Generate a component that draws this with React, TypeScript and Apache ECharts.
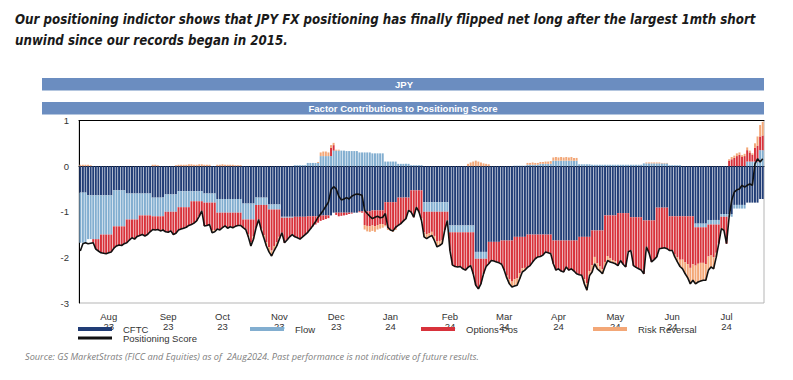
import React, { useEffect, useRef } from "react";
import * as echarts from "echarts";

// ---------- data ----------
const START_DATE = "2023-07-31";
const END_DATE = "2024-08-02";

// dates (mid-month) that carry the month labels on the x axis
const MONTH_LABEL_DATES = [
  "2023-08-15", "2023-09-15", "2023-10-16", "2023-11-15", "2023-12-15", "2024-01-15",
  "2024-02-15", "2024-03-15", "2024-04-15", "2024-05-15", "2024-06-14", "2024-07-15",
];
const MONTH_NAMES = ["Jan", "Feb", "Mar", "Apr", "May", "Jun", "Jul", "Aug", "Sep", "Oct", "Nov", "Dec"];

// weekly factors (CFTC report / flow), each value holds for one reporting week
const CFTC_WEEKLY = [
  -0.58, -0.64, -0.64, -0.53, -0.60, -0.60, -0.69, -0.62, -0.55, -0.55,
  -0.60, -0.72, -0.72, -0.82, -0.69, -0.84, -1.11, -1.11, -1.10, -1.08,
  -1.02, -1.02, -0.99, -0.97, -0.79, -0.69, -0.53, -0.79, -0.79, -1.30,
  -1.30, -1.88, -1.66, -1.63, -1.55, -1.50, -1.50, -1.63, -1.63, -1.55,
  -1.41, -1.08, -1.03, -1.12, -1.19, -0.91, -1.10, -1.10, -1.26, -1.18,
  -1.05, -0.85, -0.80, -0.72,
];
const FLOW_WEEKLY = [
  -1.10, -0.96, -0.86, -0.79, -0.57, -0.48, -0.41, -0.38, -0.35, -0.22,
  -0.20, -0.30, -0.30, -0.35, -0.16, -0.11, -0.02, 0.02, 0.07, 0.22,
  0.34, 0.33, 0.30, 0.28, 0.10, 0.05, 0.02, -0.21, -0.21, -0.15,
  -0.15, -0.15, 0.0, 0.0, 0.01, 0.03, 0.05, 0.12, 0.12, 0.04,
  0.03, 0.03, 0.03, 0.03, 0.06, 0.06, 0.02, 0.0, -0.08, -0.10,
  -0.06, -0.08, 0.10, 0.35,
];

// daily factors
const OPTIONS_POS = [
  0, 0, 0,
  0, 0, -0.08, -0.22, -0.26,
  -0.40, -0.41, -0.42, -0.40, -0.38,
  -0.48, -0.43, -0.41, -0.42, -0.38,
  -0.51, -0.45, -0.40, -0.43, -0.37,
  -0.44, -0.42, -0.45, -0.42, -0.36,
  -0.29, -0.30, -0.29, -0.32, -0.30,
  -0.44, -0.45, -0.42, -0.50, -0.47,
  -0.50, -0.48, -0.46, -0.44, -0.40,
  -0.51, -0.48, -0.43, -0.33, -0.21,
  -0.51, -0.50, -0.48, -0.60, -0.60,
  -0.36, -0.38, -0.33, -0.29, -0.34,
  -0.31, -0.33, -0.30, -0.28, -0.28,
  -0.18, -0.22, -0.33, -0.50, -0.37,
  -0.50, -0.32, -0.52, -0.66, -0.82,
  -0.83, -0.90, -0.80, -0.72, -0.60,
  -0.33, -0.55, -0.49, -0.42, -0.37,
  -0.44, -0.46, -0.49, -0.44, -0.39,
  -0.35, -0.28, -0.22, -0.18, -0.14,
  -0.12, -0.10, -0.08, -0.06, 0.18,
  0.12, -0.05, -0.08, -0.07, -0.06,
  -0.05, -0.03, -0.02, 0, 0,
  -0.02, -0.03, -0.30, -0.32, -0.33,
  -0.33, -0.35, -0.32, -0.30, -0.30,
  -0.50, -0.58, -0.60, -0.62, -0.58,
  -0.61, -0.58, -0.52, -0.46, -0.30,
  -0.48, -0.59, -0.37, -0.47, -0.62,
  -0.45, -0.49, -0.47, -0.44, -0.53,
  -0.65, -0.64, -0.62, -0.40, -0.19,
  -0.40, -0.72, -0.75, -0.76, -0.75,
  -0.80, -0.83, -0.77, -0.73, -0.91,
  -0.58, -0.66, -0.55, -0.33, -0.17,
  -0.48, -0.41, -0.42, -0.44, -0.46,
  -0.52, -0.65, -0.77, -0.85, -0.90,
  -0.93, -0.91, -0.80, -0.69, -0.68,
  -0.72, -0.68, -0.60, -0.53, -0.49,
  -0.48, -0.45, -0.38, -0.40, -0.42,
  -0.51, -0.65, -0.62, -0.67, -0.69,
  -0.58, -0.65, -0.62, -0.67, -0.73,
  -0.83, -0.84, -0.93, -1.02, -0.75,
  -0.76, -0.58, -0.72, -0.79, -0.85,
  -1.02, -0.89, -0.94, -0.98, -1.01,
  -1.15, -1.04, -1.12, -1.18, -0.85,
  -0.73, -1.06, -1.10, -1.13, -1.16,
  -1.17, -0.58, -0.71, -0.91, -0.86,
  -1.08, -0.90, -0.89, -0.88, -0.90,
  -0.75, -0.75, -0.84, -0.90, -0.95,
  -0.95, -1.01, -1.05, -1.13, -1.05,
  -0.84, -0.80, -0.78, -0.78, -0.81,
  -0.70, -0.68, -0.72, -0.62, -0.42,
  -0.26, -0.30, -0.59, 0.12, 0.15,
  0.18, 0.22, 0.25, 0.20, 0.22,
  0.25, 0.20, 0.15, 0.30, 0.35,
  0.30, 0.32,
];
const RISK_REVERSAL = [
  0.03, 0.03, 0.03,
  0.03, 0.02, 0, 0, 0,
  0, 0, 0, 0, 0,
  0, 0, 0, 0, 0,
  0, 0, 0, 0, 0,
  0, 0, 0, 0, 0,
  0.03, 0.03, 0.02, 0, 0,
  0, 0, 0, 0, 0.02,
  0.03, 0.03, 0.03, 0.03, 0.04,
  0.04, 0.03, 0.03, 0.04, 0.04,
  0.03, 0.03, 0.03, -0.04, -0.03,
  0.03, 0.03, 0.04, 0.03, 0.03,
  0.03, 0.03, 0.02, 0.02, 0.02,
  0, 0, -0.05, -0.08, -0.06,
  0, 0, -0.03, -0.06, -0.08,
  -0.10, -0.12, -0.10, -0.08, -0.05,
  0, 0, 0, 0, 0,
  0, 0, 0, 0, 0,
  0, 0, 0, 0, 0.02,
  0.08, 0.10, 0.10, 0.08, 0.06,
  0.05, 0.02, 0.02, 0, 0,
  0, 0, 0, 0, 0,
  0, 0, -0.10, -0.12, -0.12,
  -0.12, -0.12, -0.10, -0.10, -0.08,
  -0.03, -0.03, -0.03, -0.03, -0.03,
  0, 0, 0, 0, 0,
  0, 0, 0, -0.02, -0.03,
  -0.10, -0.10, -0.08, -0.08, -0.10,
  -0.12, -0.10, -0.08, 0, 0,
  0, 0, 0, 0, 0,
  0, 0, 0.05, 0.08, 0.10,
  0.12, 0.10, 0.08, 0.06, 0.05,
  0.04, 0, 0, 0, 0,
  0, 0, -0.05, -0.10, -0.12,
  -0.15, -0.15, -0.12, -0.08, -0.05,
  0.04, 0.04, 0.05, 0.04, 0.04,
  0.04, 0.04, 0.05, 0.05, 0.06,
  0.07, 0.08, 0.07, 0.08, 0.07,
  0.08, 0.07, 0.08, 0.06, 0.06,
  0, 0, -0.10, -0.15, -0.10,
  -0.15, -0.15, -0.12, -0.10, -0.10,
  -0.10, -0.10, -0.08, -0.06, -0.05,
  0, 0, 0, 0, 0,
  0, 0, 0, 0, 0,
  0, 0.02, 0.02, 0.02, 0.02,
  0.02, 0.02, 0.01, 0.01, 0.01,
  0, 0, -0.05, -0.10, -0.15,
  -0.20, -0.25, -0.30, -0.35, -0.35,
  -0.40, -0.40, -0.40, -0.38, -0.35,
  -0.30, -0.25, -0.25, -0.10, 0,
  0, 0, 0, 0.03, 0.05,
  0.05, 0.06, 0.05, 0.04, 0.05,
  0.06, 0.04, 0.03, 0.10, 0.20,
  0.25, 0.30,
];
const POSITIONING_SCORE = [
  -1.86, -1.70, -1.68, -1.70, -1.69, -1.68, -1.82, -1.86, -1.90, -1.91,
  -1.92, -1.90, -1.88, -1.80, -1.75, -1.73, -1.74, -1.70, -1.68, -1.62,
  -1.57, -1.60, -1.54, -1.52, -1.50, -1.53, -1.50, -1.44, -1.39, -1.40,
  -1.39, -1.42, -1.40, -1.44, -1.45, -1.42, -1.50, -1.47, -1.40, -1.38,
  -1.36, -1.34, -1.30, -1.28, -1.25, -1.20, -1.10, -0.98, -1.31, -1.30,
  -1.28, -1.46, -1.44, -1.38, -1.40, -1.35, -1.31, -1.36, -1.33, -1.35,
  -1.32, -1.30, -1.30, -1.35, -1.39, -1.55, -1.75, -1.60, -1.35, -1.17,
  -1.40, -1.57, -1.75, -1.88, -1.97, -1.85, -1.75, -1.60, -1.46, -1.68,
  -1.62, -1.55, -1.50, -1.55, -1.57, -1.60, -1.55, -1.50, -1.45, -1.38,
  -1.30, -1.22, -1.12, -1.05, -0.97, -0.88, -0.79, -0.52, -0.45, -0.50,
  -0.66, -0.74, -0.72, -0.69, -0.72, -0.66, -0.63, -0.61, -0.62, -0.64,
  -0.97, -1.04, -1.10, -1.15, -1.12, -1.10, -1.13, -1.12, -1.04, -1.34,
  -1.40, -1.42, -1.34, -1.30, -1.26, -1.20, -1.15, -0.97, -1.01, -1.12,
  -0.90, -1.00, -1.19, -1.55, -1.59, -1.55, -1.52, -1.63, -1.77, -1.74,
  -1.70, -1.40, -1.19, -1.85, -2.17, -2.20, -2.21, -2.20, -2.25, -2.28,
  -2.22, -2.18, -2.36, -2.61, -2.69, -2.58, -2.36, -2.20, -2.14, -2.07,
  -2.08, -2.10, -2.12, -2.15, -2.28, -2.45, -2.58, -2.65, -2.63, -2.61,
  -2.47, -2.32, -2.28, -2.22, -2.18, -2.10, -2.03, -1.99, -1.98, -1.95,
  -1.88, -1.90, -1.92, -2.14, -2.28, -2.25, -2.30, -2.32, -2.21, -2.28,
  -2.25, -2.30, -2.36, -2.38, -2.39, -2.58, -2.72, -2.40, -2.32, -2.14,
  -2.25, -2.30, -2.36, -2.20, -2.07, -2.10, -2.12, -2.14, -2.18, -2.07,
  -2.15, -2.21, -1.88, -1.85, -2.18, -2.22, -2.25, -2.28, -2.36, -1.77,
  -1.90, -2.10, -2.05, -1.99, -1.81, -1.80, -1.79, -1.81, -1.85, -1.85,
  -1.99, -2.10, -2.20, -2.25, -2.36, -2.45, -2.58, -2.50, -2.58, -2.54,
  -2.52, -2.50, -2.50, -2.28, -2.21, -2.25, -2.00, -1.70, -1.37, -1.41,
  -1.70, -1.12, -0.75, -0.57, -0.52, -0.50, -0.42, -0.46, -0.42, -0.39,
  -0.42, 0.05, 0.16, 0.09, 0.16,
];

const TITLE_LINES = [
  "Our positioning indictor shows that JPY FX positioning has finally flipped net long after the largest 1mth short",
  "unwind since our records began in 2015.",
];
const SOURCE_TEXT =
  "Source: GS MarketStrats (FICC and Equities) as of  2Aug2024. Past performance is not indicative of future results.";

// ---------- helpers ----------
function buildBusinessDays(start: string, end: string): string[] {
  const out: string[] = [];
  const d = new Date(start + "T00:00:00Z");
  const e = new Date(end + "T00:00:00Z");
  while (d.getTime() <= e.getTime()) {
    const wd = d.getUTCDay();
    if (wd !== 0 && wd !== 6) out.push(d.toISOString().slice(0, 10));
    d.setUTCDate(d.getUTCDate() + 1);
  }
  return out;
}

const COLORS = {
  cftc: "#213D76",
  flow: "#82AED0",
  options: "#D8323B",
  rr: "#F3A777",
  score: "#111111",
  header: "#6B8DC0",
};

export default function App() {
  const ref = useRef<HTMLDivElement>(null);

  useEffect(() => {
    if (!ref.current) return;
    const chart = echarts.init(ref.current, undefined, { renderer: "svg" });

    const dates = buildBusinessDays(START_DATE, END_DATE);
    // each weekly report value holds from its release day through the following week
    const weekOf = (i: number) => Math.floor((i + 2) / 5);
    const cftcDaily = dates.map((_, i) => CFTC_WEEKLY[weekOf(i)]);
    const flowDaily = dates.map((_, i) => FLOW_WEEKLY[weekOf(i)]);

    const labelFont = "'Liberation Sans', Arial, sans-serif";
    const barCommon = { type: "bar", stack: "total", barCategoryGap: "24%", emphasis: { disabled: true } };

    const legendBase = (name: string, left: number, top: number, h: number) => ({
      data: [name],
      left,
      top,
      icon: "rect",
      itemWidth: 34,
      itemHeight: h,
      padding: 0,
      selectedMode: false,
      textStyle: { fontSize: 9.5, color: "#333", fontFamily: labelFont, padding: [0, 0, 0, 6], lineHeight: 12 },
    });

    chart.setOption({
      animation: false,
      backgroundColor: "#ffffff",
      title: [
        {
          text: TITLE_LINES.join("\n"),
          left: 15,
          top: 9,
          padding: 0,
          textStyle: {
            fontSize: 13.2,
            fontWeight: "bold",
            fontStyle: "italic",
            color: "#1a1a1a",
            lineHeight: 21,
            fontFamily: "'DejaVu Sans Condensed', 'Open Sans', sans-serif",
          },
        },
        {
          text: SOURCE_TEXT,
          left: 25,
          top: 352,
          padding: 0,
          textStyle: {
            fontSize: 9.2,
            fontWeight: "normal",
            fontStyle: "italic",
            color: "#808080",
            fontFamily: "'Open Sans', sans-serif",
          },
        },
      ],
      graphic: [
        { type: "rect", shape: { x: 42, y: 78, width: 722, height: 12.5 }, style: { fill: COLORS.header } },
        {
          type: "text",
          x: 404,
          y: 84.5,
          style: {
            text: "JPY",
            fill: "#ffffff",
            fontSize: 9.5,
            fontWeight: "bold",
            fontFamily: labelFont,
            align: "center",
            verticalAlign: "middle",
          },
        },
        { type: "rect", shape: { x: 42, y: 102, width: 722, height: 12.5 }, style: { fill: COLORS.header } },
        {
          type: "text",
          x: 403,
          y: 108.5,
          style: {
            text: "Factor Contributions to Positioning Score",
            fill: "#ffffff",
            fontSize: 9.5,
            fontWeight: "bold",
            fontFamily: labelFont,
            align: "center",
            verticalAlign: "middle",
          },
        },
      ],
      legend: [
        legendBase("CFTC", 78, 323, 4),
        legendBase("Flow", 250, 323, 4),
        legendBase("Options Pos", 421, 323, 4),
        legendBase("Risk Reversal", 593, 323, 4),
        legendBase("Positioning Score", 78, 332, 3),
      ],
      grid: {
        left: 79,
        right: 29,
        top: 120.5,
        bottom: 77,
        containLabel: false,
        outerBoundsMode: "none",
        show: true,
        borderColor: "#b5b5b5",
        borderWidth: 1,
        backgroundColor: "transparent",
      },
      xAxis: [
        {
          type: "category",
          data: dates,
          boundaryGap: true,
          axisLine: { lineStyle: { color: "#000", width: 1 } },
          axisTick: {
            inside: true,
            length: 4,
            lineStyle: { color: "#000" },
            interval: (index: number) => index % 5 === 0,
          },
          axisLabel: {
            interval: (_index: number, value: string) => MONTH_LABEL_DATES.indexOf(value) >= 0,
            formatter: (value: string) => {
              const m = parseInt(value.slice(5, 7), 10) - 1;
              return MONTH_NAMES[m] + "\n" + value.slice(2, 4);
            },
            fontSize: 9.5,
            lineHeight: 10,
            color: "#333",
            fontFamily: labelFont,
            margin: 8,
          },
          splitLine: { show: false },
        },
        {
          type: "category",
          position: "top",
          data: dates,
          axisLine: { lineStyle: { color: "#000", width: 1 } },
          axisTick: { show: false },
          axisLabel: { show: false },
          splitLine: { show: false },
        },
      ],
      yAxis: {
        type: "value",
        min: -3,
        max: 1,
        interval: 1,
        axisLine: { show: true, lineStyle: { color: "#000", width: 1 } },
        axisTick: { show: false },
        splitLine: { show: false },
        axisLabel: { fontSize: 9.5, color: "#333", fontFamily: labelFont, margin: 10 },
      },
      series: [
        { ...barCommon, name: "CFTC", data: cftcDaily, itemStyle: { color: COLORS.cftc } },
        { ...barCommon, name: "Flow", data: flowDaily, itemStyle: { color: COLORS.flow } },
        { ...barCommon, name: "Options Pos", data: OPTIONS_POS, itemStyle: { color: COLORS.options } },
        { ...barCommon, name: "Risk Reversal", data: RISK_REVERSAL, itemStyle: { color: COLORS.rr } },
        {
          type: "line",
          name: "Positioning Score",
          data: POSITIONING_SCORE,
          symbol: "none",
          showSymbol: false,
          z: 10,
          lineStyle: { color: COLORS.score, width: 1.6 },
          itemStyle: { color: COLORS.score },
          emphasis: { disabled: true },
        },
      ],
    });

    return () => chart.dispose();
  }, []);

  return (
    <div
      ref={ref}
      style={{ position: "fixed", left: 0, top: 0, width: 793, height: 380, background: "#fff" }}
    />
  );
}
